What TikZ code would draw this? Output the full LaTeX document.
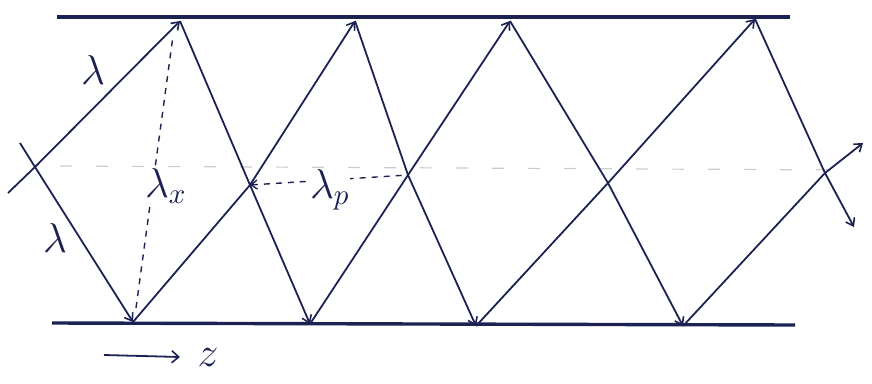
\documentclass[tikz,border=0pt]{standalone}
\usetikzlibrary{arrows.meta}
\definecolor{ink}{HTML}{1C2252}
\newcommand\biglab[1]{\scalebox{2.9}{$#1$}}
\begin{document}
\begin{tikzpicture}[x=1pt,y=-1pt,
  wall/.style={ink,line width=3.4pt},
  ray/.style={ink,line width=1.8pt,-{Straight Barb[length=7pt,width=10pt,line width=1.6pt]}},
  meas/.style={ink,line width=1.4pt,dash pattern=on 6pt off 6pt},
  faint/.style={gray!40,line width=1.2pt,dash pattern=on 12pt off 24pt},
  lbl/.style={ink,font=\Large,inner sep=1pt}]
\useasboundingbox (0,0) rectangle (872,383);
% reflection points
\coordinate (T1) at (180,21);
\coordinate (T2) at (355,21);
\coordinate (T3) at (510,21);
\coordinate (T4) at (755,19);
\coordinate (B1) at (133,322);
\coordinate (B2) at (310,324);
\coordinate (B3) at (476,326);
\coordinate (B4) at (683,326);
\coordinate (S1) at (8,193);
\coordinate (S2) at (20,143);
\coordinate (E1) at (854,227);
\coordinate (E2) at (863,143);
% crossing points
\coordinate (C0) at (35,167);
\coordinate (C1) at (250,185);
\coordinate (C2) at (408,175);
\coordinate (C3) at (608,183);
\coordinate (C4) at (825,173);
% walls
\coordinate (WL1) at (57,17);
\coordinate (WR1) at (790,17);
\coordinate (WL2) at (52,323);
\coordinate (WR2) at (795,325);
\coordinate (CL) at (60,166);
\coordinate (CR) at (850,170);
% faint centre line
\draw[faint] (CL) -- (CR);
\draw[wall] (WL1) -- (WR1);
\draw[wall] (WL2) -- (WR2);
% rays
\draw[ray] (S1) -- (C0) -- (T1);
\draw[ray] (S2) -- (C0) -- (B1);
\draw[ray] (T1) -- (C1) -- (B2);
\draw[ray] (B1) -- (C1) -- (T2);
\draw[ray] (B2) -- (C2) -- (T3);
\draw[ray] (T2) -- (C2) -- (B3);
\draw[ray] (B3) -- (C3) -- (T4);
\draw[ray] (T3) -- (C3) -- (B4);
\draw[ray] (T4) -- (C4) -- (E1);
\draw[ray] (B4) -- (C4) -- (E2);
% lambda_x measure
\coordinate (VX1) at (136,308);
\coordinate (VX2) at (173,36);
\draw[meas] (VX1) -- (VX2);
\node[lbl,fill=white,inner sep=0pt] (lx) at (166,186) {\biglab{\lambda_x}};
% lambda_p measure
\draw[meas,{Straight Barb[length=6pt,width=9pt,line width=1.4pt]}-] (C1) -- (C2);
\node[lbl,fill=white,inner sep=0pt] (lp) at (330,190) {\biglab{\lambda_p}};
% wavelength labels
\node[lbl] (l1) at (93,70) {\biglab{\lambda}};
\node[lbl] (l2) at (55,238) {\biglab{\lambda}};
% z direction
\coordinate (Z1) at (104,355);
\coordinate (Z2) at (180,357);
\draw[ink,line width=1.8pt,-{Straight Barb[length=7pt,width=12pt,line width=1.6pt]}] (Z1) -- (Z2);
\node[lbl] (z) at (208,358) {\biglab{z}};
\end{tikzpicture}
\end{document}
